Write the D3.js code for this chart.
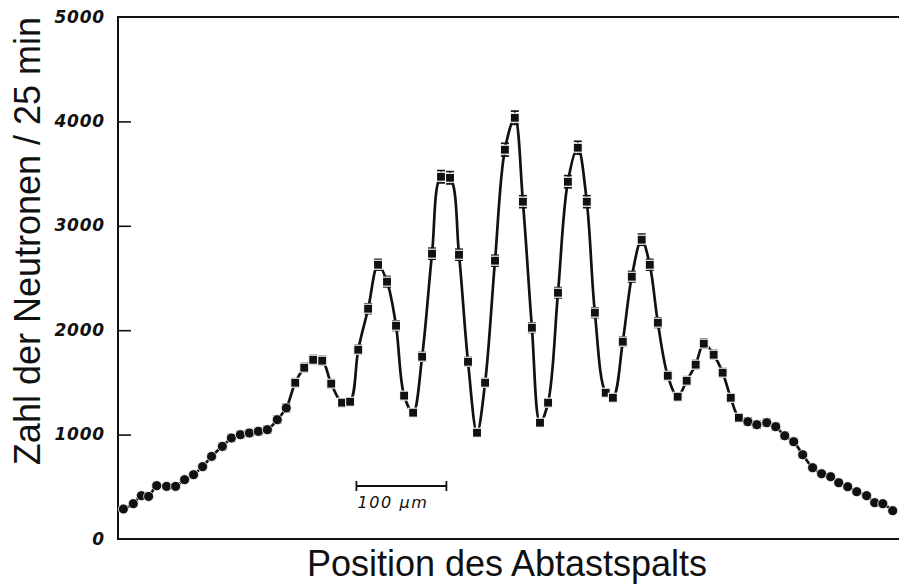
<!DOCTYPE html>
<html>
<head>
<meta charset="utf-8">
<script src="https://cdn.jsdelivr.net/npm/d3@7/dist/d3.min.js"></script>
<style>
  html, body { margin: 0; padding: 0; background: #fff; }
  svg { display: block; }
</style>
</head>
<body>
<svg id="chart" width="899" height="585"></svg>
<script>
// Scan positions of the slit (µm) and neutron counts per 25 min
const positions = [6,17,26,34,43,54,64,74,84,94,104,116,126,136,146,156,166,177,187,197,
  207,217,227,237,249,258,267,278,289,299,309,318,328,338,349,359,369,379,389,399,
  408,419,430,441,450,460,469,478,489,500,511,521,530,542,550,561,571,582,591,600,
  611,622,632,642,651,662,672,681,690,700,710,721,731,741,751,761,772,782,792,801,
  811,821,832,841,850,861];
const counts = [287,338,415,408,511,504,504,568,616,693,791,887,967,999,1015,1031,1047,1143,1255,1497,
  1641,1717,1708,1488,1306,1315,1813,2206,2627,2465,2043,1373,1210,1746,2733,3470,3460,2723,1698,1018,
  1497,2666,3729,4035,3231,2024,1114,1306,2359,3422,3748,3231,2168,1401,1353,1890,2512,2867,2627,2072,
  1564,1363,1516,1670,1871,1765,1593,1353,1162,1124,1095,1114,1076,989,932,807,683,625,597,539,
  501,453,415,348,338,271];
const yTicks = [0, 1000, 2000, 3000, 4000, 5000];
const scaleBar = { start: 265, length: 100, label: "100 µm" };

const data = positions.map((p, i) => ({ x: p, y: counts[i] }));

const svg = d3.select("#chart");
const plot = { left: 118, right: 899, top: 17, bottom: 539 };

const x = d3.scaleLinear().domain([0, 868]).range([plot.left, plot.right]);
const y = d3.scaleLinear().domain([0, 5000]).range([plot.bottom, plot.top]);

// frame: left, top and bottom edges
const frame = svg.append("g").attr("stroke", "#111").attr("stroke-width", 2).attr("fill", "none");
frame.append("line").attr("x1", plot.left).attr("x2", plot.left).attr("y1", plot.top - 1).attr("y2", plot.bottom + 1);
frame.append("line").attr("x1", plot.left).attr("x2", plot.right).attr("y1", plot.top).attr("y2", plot.top);
frame.append("line").attr("x1", plot.left).attr("x2", plot.right).attr("y1", plot.bottom).attr("y2", plot.bottom);

// y axis: inward ticks and italic labels
const yAxis = d3.axisLeft(y).tickValues(yTicks).tickSize(-13).tickPadding(13)
  .tickFormat(d3.format("d"));
const ga = svg.append("g").attr("transform", `translate(${plot.left},0)`).call(yAxis);
ga.select(".domain").remove();
ga.selectAll(".tick line")
  .attr("stroke", "#111").attr("stroke-width", 1.6)
  .attr("display", d => (d === 0 || d === 5000) ? "none" : null);
ga.selectAll(".tick text")
  .attr("x", -13)
  .attr("dy", "0.3em")
  .attr("fill", "#111")
  .style("font-family", "'DejaVu Sans', sans-serif")
  .style("font-weight", "bold")
  .style("font-style", "italic")
  .style("font-size", "17px")
  .style("letter-spacing", "0.8px");

// smooth curve through the measured counts
const line = d3.line().x(d => x(d.x)).y(d => y(d.y)).curve(d3.curveCatmullRom.alpha(0.5));
svg.append("path").datum(data)
  .attr("d", line)
  .attr("fill", "none")
  .attr("stroke", "#111")
  .attr("stroke-width", 2.7);

// counting-statistics error bars (sqrt N)
const eb = svg.append("g").attr("stroke", "#111").attr("stroke-width", 1.7);
data.forEach(d => {
  const e = Math.sqrt(d.y);
  const cx = x(d.x), y1 = y(d.y + e), y2 = y(d.y - e);
  eb.append("line").attr("x1", cx).attr("x2", cx).attr("y1", y1).attr("y2", y2);
  eb.append("line").attr("x1", cx - 4).attr("x2", cx + 4).attr("y1", y1).attr("y2", y1);
  eb.append("line").attr("x1", cx - 4).attr("x2", cx + 4).attr("y1", y2).attr("y2", y2);
});

// markers: squares in the fringe region, dots on the wings
const isCentral = d => d.x >= 190 && d.x <= 690;
const mk = svg.append("g");
mk.selectAll("rect").data(data.filter(isCentral)).join("rect")
  .attr("x", d => x(d.x) - 4.5).attr("y", d => y(d.y) - 4.5)
  .attr("width", 9).attr("height", 9)
  .attr("fill", "#111").attr("stroke", "#fff").attr("stroke-width", 1.1);
mk.selectAll("circle").data(data.filter(d => !isCentral(d))).join("circle")
  .attr("cx", d => x(d.x)).attr("cy", d => y(d.y)).attr("r", 5)
  .attr("fill", "#111").attr("stroke", "#fff").attr("stroke-width", 0.8);

// scale bar
const sb = svg.append("g").attr("stroke", "#111").attr("stroke-width", 1.8);
const sx0 = x(scaleBar.start), sx1 = x(scaleBar.start + scaleBar.length), sy = 486;
sb.append("line").attr("x1", sx0).attr("x2", sx1).attr("y1", sy).attr("y2", sy);
sb.append("line").attr("x1", sx0).attr("x2", sx0).attr("y1", sy - 5).attr("y2", sy + 5);
sb.append("line").attr("x1", sx1).attr("x2", sx1).attr("y1", sy - 5).attr("y2", sy + 5);
svg.append("text")
  .attr("x", sx0 + 1).attr("y", 508)
  .attr("fill", "#111")
  .style("font-family", "'DejaVu Sans', sans-serif")
  .style("font-style", "italic")
  .style("font-size", "16px")
  .style("letter-spacing", "1.6px")
  .text(scaleBar.label);

// axis titles
svg.append("text")
  .attr("x", 507).attr("y", 576)
  .attr("text-anchor", "middle")
  .attr("fill", "#111")
  .style("font-family", "'Liberation Sans', Arial, sans-serif")
  .style("font-size", "36px")
  .text("Position des Abtastspalts");

svg.append("text")
  .attr("transform", "translate(40,241) rotate(-90)")
  .attr("text-anchor", "middle")
  .attr("fill", "#111")
  .style("font-family", "'Liberation Sans', Arial, sans-serif")
  .style("font-size", "36px")
  .text("Zahl der Neutronen / 25 min");
</script>
</body>
</html>
